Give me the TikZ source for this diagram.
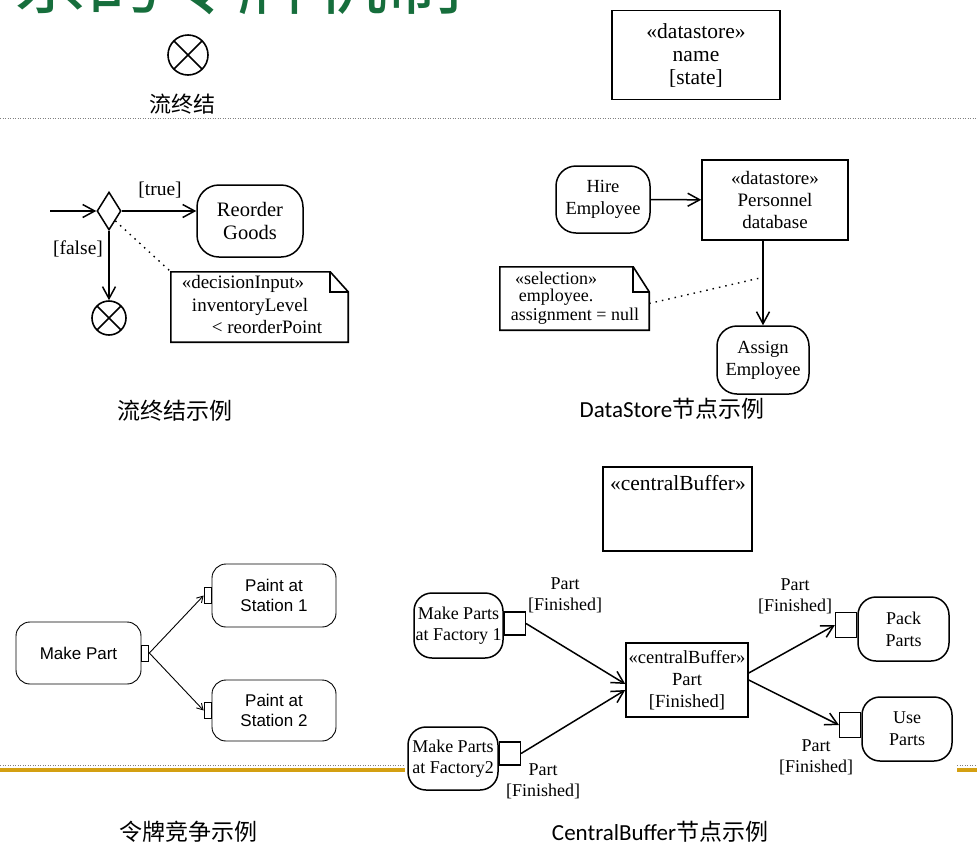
\documentclass[tikz,border=0pt]{standalone}
\usepackage{fontspec}
\setmainfont{Liberation Serif}
\newfontfamily\cjkfont{Noto Sans CJK SC}
\newfontfamily\arialfont{Liberation Sans}
\newfontfamily\calfont{Carlito}
\usetikzlibrary{shapes.geometric,arrows.meta,positioning}

\definecolor{titlegreen}{RGB}{22,110,60}
\definecolor{slidegold}{RGB}{212,160,18}

\tikzset{
  action/.style={draw, line width=1.5pt, rounded corners=18pt, align=center,
    inner sep=0pt, font=\fontsize{18.5}{22}\selectfont},
  objnode/.style={draw, line width=1.5pt, align=center, inner sep=0pt,
    font=\fontsize{19}{22}\selectfont},
  tokact/.style={draw, line width=0.9pt, rounded corners=14pt, align=center,
    inner sep=0pt, font=\arialfont\fontsize{17}{20}\selectfont},
  smallpin/.style={draw, line width=0.9pt, inner sep=0pt, minimum width=7pt, minimum height=16pt},
  pinbox/.style={draw, line width=1.3pt, inner sep=0pt, minimum width=21pt, minimum height=23pt},
  flowend/.style={circle, draw, line width=1.6pt, inner sep=0pt, minimum size=34pt,
    path picture={\draw[line width=1.6pt]
      (path picture bounding box.north east) -- (path picture bounding box.south west)
      (path picture bounding box.north west) -- (path picture bounding box.south east);}},
  flow/.style={line width=1.5pt, -{Straight Barb[length=12pt,width=13pt,line width=1.5pt]}},
  thinflow/.style={line width=0.9pt, -{Straight Barb[length=6pt,width=7pt]}},
  anchorline/.style={line width=1.4pt, dash pattern=on 1.5pt off 5pt},
  note/.style={inner sep=0pt},
  guard/.style={inner sep=0pt, font=\fontsize{18}{21}\selectfont, align=center},
  caption/.style={inner sep=0pt, font=\cjkfont\fontsize{23}{26}\selectfont}
}

\begin{document}
\begin{tikzpicture}[x=1pt, y=-1pt]
  \useasboundingbox (0,0) rectangle (977,852);

  % slide title, cut by the top edge
  \node[anchor=base west, inner sep=0pt, text=titlegreen,
        font=\cjkfont\fontsize{75}{75}\selectfont] (title) at (12,8) {系的令牌机制};

  % legend: flow final
  \node[flowend, minimum size=40pt] (ffsym) at (188,55) {};
  \node[caption, font=\cjkfont\fontsize{22}{26}\selectfont] (fflabel) at (182,104) {流终结};

  % legend: datastore
  \node[objnode, minimum width=168pt, minimum height=89pt, font=\fontsize{21.5}{23}\selectfont]
    (dslegend) at (696,55) {«datastore»\\name\\{[state]}};

  \draw[gray, line width=0.8pt, dash pattern=on 1pt off 1.5pt] (0,118) -- (977,118);

  % flow final example
  \coordinate (inflow) at (50,211);
  \node[diamond, draw, line width=1.5pt, inner sep=0pt, minimum width=24pt, minimum height=38pt]
    (dec) at (109,211) {};
  \node[action, minimum width=106pt, minimum height=72pt, rounded corners=22pt, font=\fontsize{20.5}{23}\selectfont]
    (reorder) at (250,221) {Reorder\\Goods};
  \node[flowend] (ffex) at (109,318) {};
  \node[guard, font=\fontsize{19.5}{21}\selectfont] (truelbl) at (160,190) {[true]};
  \node[guard, font=\fontsize{19.5}{21}\selectfont] (falselbl) at (78,249) {[false]};
  \draw[flow] (inflow) -- (dec.west);
  \draw[flow] (dec.east) -- (dec.east -| reorder.west);
  \draw[flow] (dec.south) -- (ffex.north);

  \node[note, minimum width=177pt, minimum height=70pt] (decnote) at (259.5,307) {};
  \draw[line width=1.6pt] (decnote.north west) -- ([xshift=-18pt]decnote.north east)
    -- ([yshift=-20pt]decnote.north east) -- (decnote.south east) -- (decnote.south west) -- cycle;
  \draw[line width=1.6pt] ([xshift=-18pt]decnote.north east) -- ([xshift=-18pt,yshift=-20pt]decnote.north east)
    -- ([yshift=-20pt]decnote.north east);
  \node[guard, font=\fontsize{19}{21}\selectfont] (decin) at (243,284) {«decisionInput»};
  \node[guard, font=\fontsize{19}{21}\selectfont] (invlvl) at (250,307) {inventoryLevel};
  \node[guard, font=\fontsize{19}{21}\selectfont] (reord) at (267,327) {< reorderPoint};
  \draw[anchorline] (dec.south east) -- (decnote.north west);

  \node[caption] (cap1) at (175,411) {流终结示例};

  % datastore example
  \node[action, minimum width=94pt, minimum height=67pt, rounded corners=20pt]
    (hire) at (603,199.5) {Hire\\Employee};
  \node[objnode, minimum width=146pt, minimum height=80pt] (pdb) at (775,200)
    {«datastore»\\Personnel\\database};
  \node[action, minimum width=92pt, minimum height=68pt, rounded corners=20pt]
    (assign) at (763,360) {Assign\\Employee};
  \draw[flow] (hire) -- (pdb);
  \draw[flow] (pdb.south -| assign.north) -- (assign.north);

  \node[note, minimum width=149pt, minimum height=63pt] (selnote) at (574.5,298.5) {};
  \draw[line width=1.6pt] (selnote.north west) -- ([xshift=-16pt]selnote.north east)
    -- ([yshift=-25pt]selnote.north east) -- (selnote.south east) -- (selnote.south west) -- cycle;
  \draw[line width=1.6pt] ([xshift=-16pt]selnote.north east) -- ([xshift=-16pt,yshift=-25pt]selnote.north east)
    -- ([yshift=-25pt]selnote.north east);
  \node[guard] (selsel) at (556,278) {«selection»};
  \node[guard] (selemp) at (556,297) {employee.};
  \node[guard] (selass) at (575,316) {assignment = null};
  \coordinate (selend) at (760,278);
  \draw[anchorline] ([yshift=-5pt]selnote.east) -- (selend);

  \node[caption] (cap2) at (672,409) {{\calfont DataStore}节点示例};

  % legend: central buffer
  \node[draw, line width=2.2pt, minimum width=149pt, minimum height=84pt] (cblegend) at (677.5,509) {};
  \node[guard, font=\fontsize{21.5}{22}\selectfont] (cbname) at (678,483) {«centralBuffer»};

  % token competition
  \node[tokact, minimum width=125pt, minimum height=62pt] (makepart) at (78.5,653) {Make Part};
  \node[smallpin, anchor=west] (mpout) at (makepart.east) {};
  \node[tokact, minimum width=124pt, minimum height=63pt] (paint1) at (274,595.5) {Paint at\\Station 1};
  \node[smallpin, anchor=east] (p1in) at (paint1.west) {};
  \node[tokact, minimum width=124pt, minimum height=61pt] (paint2) at (274,710.5) {Paint at\\Station 2};
  \node[smallpin, anchor=east] (p2in) at (paint2.west) {};
  \draw[thinflow] (mpout.east) -- (p1in.west);
  \draw[thinflow] (mpout.east) -- (p2in.west);

  % central buffer example
  \node[action, minimum width=89pt, minimum height=65pt, font=\fontsize{18}{21}\selectfont]
    (fac1) at (458.5,625.5) {Make Parts\\at Factory 1};
  \node[pinbox, anchor=west] (fac1pin) at ([yshift=2pt]fac1.east) {};
  \node[action, minimum width=90pt, minimum height=63pt, font=\fontsize{18}{21}\selectfont]
    (fac2) at (453,758.5) {Make Parts\\at Factory2};
  \node[pinbox, anchor=west] (fac2pin) at ([yshift=5pt]fac2.east) {};
  \node[objnode, minimum width=122pt, minimum height=74pt, font=\fontsize{18.5}{22}\selectfont] (cbuf) at (687,680)
    {«centralBuffer»\\Part\\{[Finished]}};
  \node[action, minimum width=91pt, minimum height=64pt, font=\fontsize{18}{22}\selectfont]
    (pack) at (903.5,629) {Pack\\Parts};
  \node[pinbox, anchor=east, minimum height=25pt] (packpin) at ([yshift=4pt]pack.west) {};
  \node[action, minimum width=90pt, minimum height=64pt, font=\fontsize{18}{22}\selectfont]
    (use) at (907,729) {Use\\Parts};
  \node[pinbox, anchor=east, minimum height=25pt] (usepin) at ([yshift=4pt]use.west) {};
  \draw[flow] (fac1pin.east) -- ([yshift=-4pt]cbuf.west);
  \draw[flow] (fac2pin.east) -- ([yshift=-10pt]cbuf.west);
  \draw[flow] ([yshift=7pt]cbuf.east) -- (packpin.west);
  \draw[flow] (cbuf.east) -- (usepin.west);
  \node[guard] (lbl1) at (565,595) {Part\\{[Finished]}};
  \node[guard] (lbl2) at (543,781) {Part\\{[Finished]}};
  \node[guard] (lbl3) at (795,596) {Part\\{[Finished]}};
  \node[guard] (lbl4) at (816,757) {Part\\{[Finished]}};

  % lower slide rules, hidden behind the diagram area
  \draw[gray, line width=0.8pt, dash pattern=on 1pt off 1.5pt] (0,765) -- (405,765) (957,765) -- (977,765);
  \draw[slidegold, line width=4pt] (0,770) -- (405,770) (957,770) -- (977,770);

  \node[caption] (cap3) at (188,832) {令牌竞争示例};
  \node[caption] (cap4) at (660,832) {{\calfont CentralBuffer}节点示例};
\end{tikzpicture}
\end{document}
